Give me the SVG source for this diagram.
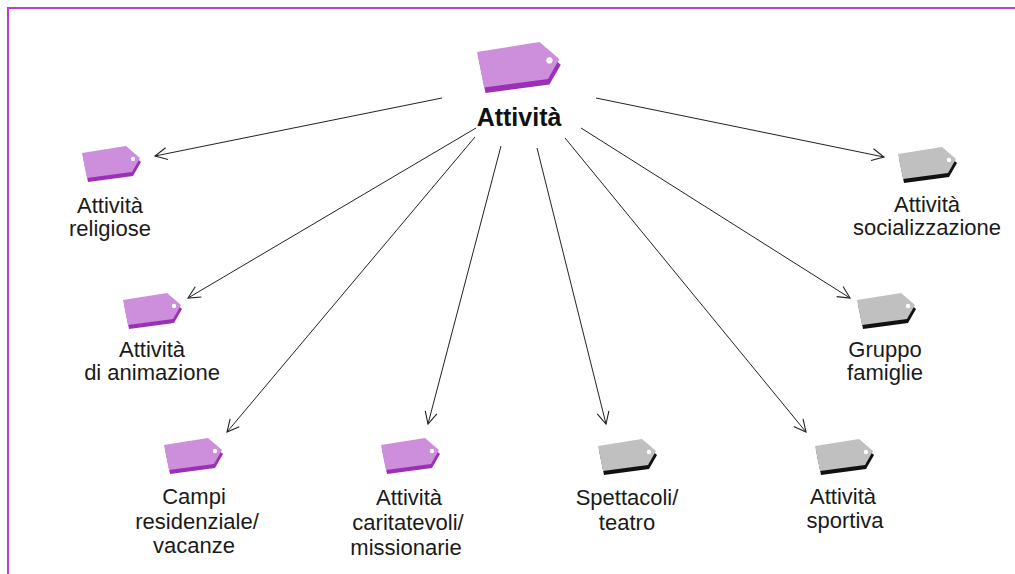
<svg xmlns="http://www.w3.org/2000/svg" xmlns:xlink="http://www.w3.org/1999/xlink" width="1015" height="574" viewBox="0 0 1015 574">
<style>
.lbl{font-family:"Liberation Sans",Arial,sans-serif;font-size:22px;fill:#1a1a1a;text-anchor:middle}
.title{font-family:"Liberation Sans",Arial,sans-serif;font-size:25px;font-weight:bold;fill:#111;text-anchor:middle}
.conn line{stroke:#222;stroke-width:1;fill:none;marker-end:url(#arr)}
.border{stroke:#b83fd0;stroke-width:2;fill:none}
</style>
<defs>
<marker id="arr" markerUnits="userSpaceOnUse" markerWidth="16" markerHeight="16" refX="13" refY="7" orient="auto" viewBox="0 0 16 14">
<path d="M1,1 L13,7 L1,13" fill="none" stroke="#222" stroke-width="1.1"/>
</marker>
<g id="tagP">
<path d="M1,11 L45,4 L59,16 L51,30 L6,36 Z" fill="#9b2fb8"/>
<path d="M0,7 L44,0 L58,12 L50,26 L5,32 Z" fill="#cd8edb"/>
<circle cx="51" cy="13" r="2.2" fill="#fff"/>
</g>
<g id="tagG">
<path d="M1,11 L45,4 L59,16 L51,30 L6,36 Z" fill="#111"/>
<path d="M0,7 L44,0 L58,12 L50,26 L5,32 Z" fill="#c0c0c0"/>
<circle cx="51" cy="13" r="2.2" fill="#fff"/>
</g>
</defs>
<rect width="1015" height="574" fill="#fff"/>
<path class="border" d="M8,574 L8,8 L1015,8"/>
<g id="connectors" class="conn">
<line x1="442" y1="98" x2="155" y2="156"/>
<line x1="476" y1="128" x2="188" y2="298"/>
<line x1="475" y1="137" x2="227" y2="432"/>
<line x1="501" y1="146" x2="428" y2="424"/>
<line x1="537" y1="148" x2="606" y2="424"/>
<line x1="565" y1="138" x2="806" y2="432"/>
<line x1="581" y1="128" x2="850" y2="298"/>
<line x1="596" y1="98" x2="884" y2="157"/>
</g>
<g id="n-attivita">
<use xlink:href="#tagP" href="#tagP" transform="translate(477,42) scale(1.42)"/>
<text class="title" x="519" y="126">Attività</text>
</g>
<g id="n-religiose">
<use xlink:href="#tagP" href="#tagP" x="82" y="146"/>
<text class="lbl" x="110" y="213">Attività</text>
<text class="lbl" x="110" y="236">religiose</text>
</g>
<g id="n-animazione">
<use xlink:href="#tagP" href="#tagP" x="123" y="293"/>
<text class="lbl" x="152" y="357">Attività</text>
<text class="lbl" x="152" y="380">di animazione</text>
</g>
<g id="n-campi">
<use xlink:href="#tagP" href="#tagP" x="164" y="438"/>
<text class="lbl" x="194" y="504">Campi</text>
<text class="lbl" x="197" y="529">residenziale/</text>
<text class="lbl" x="194" y="553">vacanze</text>
</g>
<g id="n-caritatevoli">
<use xlink:href="#tagP" href="#tagP" x="381" y="438"/>
<text class="lbl" x="409" y="505">Attività</text>
<text class="lbl" x="408" y="530">caritatevoli/</text>
<text class="lbl" x="406" y="555">missionarie</text>
</g>
<g id="n-spettacoli">
<use xlink:href="#tagG" href="#tagG" x="598" y="439"/>
<text class="lbl" x="627" y="505">Spettacoli/</text>
<text class="lbl" x="627" y="530">teatro</text>
</g>
<g id="n-sportiva">
<use xlink:href="#tagG" href="#tagG" x="815" y="439"/>
<text class="lbl" x="843" y="504">Attività</text>
<text class="lbl" x="845" y="528">sportiva</text>
</g>
<g id="n-famiglie">
<use xlink:href="#tagG" href="#tagG" x="857" y="293"/>
<text class="lbl" x="885" y="357">Gruppo</text>
<text class="lbl" x="885" y="380">famiglie</text>
</g>
<g id="n-socializzazione">
<use xlink:href="#tagG" href="#tagG" x="898" y="147"/>
<text class="lbl" x="927" y="212">Attività</text>
<text class="lbl" x="927" y="235">socializzazione</text>
</g>
</svg>
